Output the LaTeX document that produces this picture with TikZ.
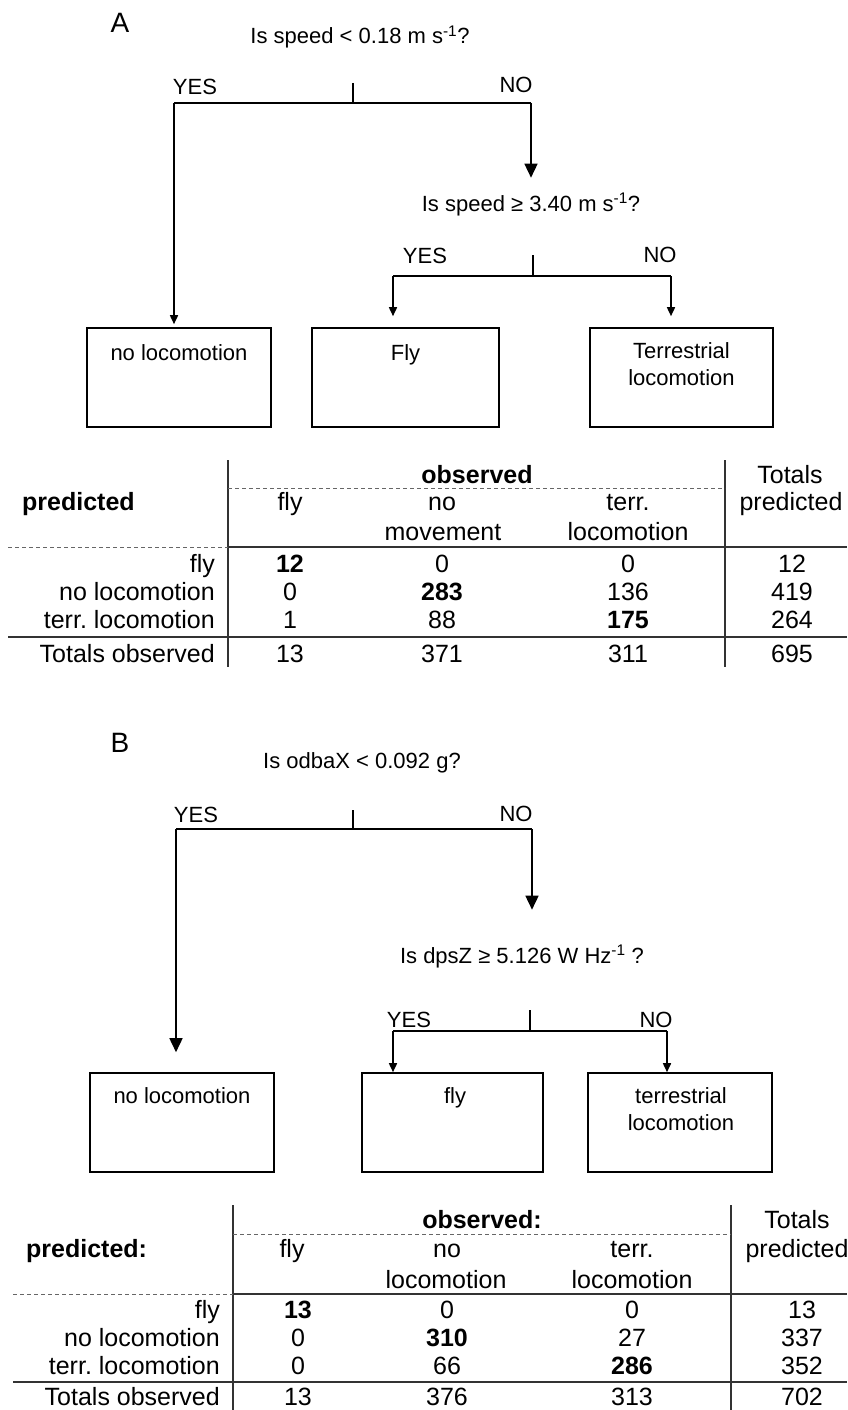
\documentclass[tikz,border=0pt]{standalone}
\usepackage{fontspec}
\setmainfont{Liberation Sans}
\frenchspacing
\usetikzlibrary{arrows.meta,calc}
\tikzset{
  tt/.style={font=\fontsize{22}{26}\selectfont, inner sep=0pt, anchor=base},
  tb/.style={font=\fontsize{25}{29}\selectfont, inner sep=0pt, anchor=base},
  tbb/.style={font=\fontsize{25}{29}\selectfont\bfseries, inner sep=0pt, anchor=base},
  tbr/.style={tb, anchor=base east},
  tbl/.style={tbb, anchor=base west},
  panel/.style={font=\fontsize{28}{32}\selectfont, inner sep=0pt, anchor=base},
  treeline/.style={line width=1.6pt},
  arrsmall/.style={treeline, -{Triangle[length=9pt,width=8pt]}},
  arrbig/.style={treeline, -{Triangle[length=14pt,width=13pt]}},
  leaf/.style={draw, line width=1.6pt, inner sep=0pt, minimum height=99pt},
  tabline/.style={line width=1.3pt, black!80},
  tabdash/.style={line width=1pt, black!60, dash pattern=on 4pt off 3pt},
}
\begin{document}
\begin{tikzpicture}[x=1pt,y=-1pt]
\useasboundingbox (0,0) rectangle (847,1410);

% ================= Panel A =================
\node[panel] (pA) at (120,33) {A};
\node[tt] (qa1) at (360,44) {Is speed < 0.18 m s\textsuperscript{-1}?};
\node[tt] (ya1) at (195,95) {YES};
\node[tt] (na1) at (516,93) {NO};
\coordinate (a1L) at (174,103);
\coordinate (a1R) at (531,103);
\coordinate (a1T) at (353,83);
\draw[treeline] (a1L) -- (a1R);
\draw[treeline] (a1T) -- (a1T |- a1L);

\node[tt] (qa2) at (531,211) {Is speed ≥ 3.40 m s\textsuperscript{-1}?};
\draw[arrbig, shorten >=15pt] (a1R) -- (a1R |- qa2.north);
\node[tt] (ya2) at (425,263) {YES};
\node[tt] (na2) at (660,262) {NO};
\coordinate (a2L) at (393,276);
\coordinate (a2R) at (671,276);
\coordinate (a2T) at (533,255);
\draw[treeline] (a2L) -- (a2R);
\draw[treeline] (a2T) -- (a2T |- a2L);

\node[leaf, minimum width=184pt] (ab1) at (179,377.5) {};
\node[leaf, minimum width=187pt] (ab2) at (405.5,377.5) {};
\node[leaf, minimum width=183pt] (ab3) at (681.5,377.5) {};
\node[tt] (ab1t) at (179,360) {no locomotion};
\node[tt] (ab2t) at (405.5,360) {Fly};
\node[tt] (ab3t) at (681.5,358) {Terrestrial};
\node[tt] (ab3u) at (681.5,385) {locomotion};

\draw[arrsmall, shorten >=3pt] (a1L) -- (a1L |- ab1.north);
\draw[arrsmall, shorten >=11pt] (a2L) -- (a2L |- ab2.north);
\draw[arrsmall, shorten >=11pt] (a2R) -- (a2R |- ab3.north);

% ---- table A ----
\coordinate (tA1t) at (228,460); \coordinate (tA1b) at (228,667);
\coordinate (tA2t) at (725,460); \coordinate (tA2b) at (725,667);
\draw[tabline] (tA1t) -- (tA1b);
\draw[tabline] (tA2t) -- (tA2b);
\node[tbb] (tAobs) at (477,483) {observed};
\coordinate (tAd1) at (228,488); \coordinate (tAd2) at (725,488);
\draw[tabdash] (tAd1) -- (tAd2);
\node[tbl] (tApred) at (22,510) {predicted};
\node[tb] (tAh1) at (290,510) {fly};
\node[tb] (tAh2) at (442,510) {no};
\node[tb] (tAh2b) at (443,540) {movement};
\node[tb] (tAh3) at (628,510) {terr.};
\node[tb] (tAh3b) at (628,540) {locomotion};
\node[tb] (tAh4) at (790,483) {Totals};
\node[tb] (tAh4b) at (791,510) {predicted};
\coordinate (tAl1a) at (8,547); \coordinate (tAl1b) at (228,547); \coordinate (tAl1c) at (847,547);
\draw[tabdash] (tAl1a) -- (tAl1b);
\draw[tabline] (tAl1b) -- (tAl1c);
\node[tbr] (tAr1) at (215,572) {fly};
\node[tbr] (tAr2) at (215,600) {no locomotion};
\node[tbr] (tAr3) at (215,628) {terr. locomotion};
\node[tbr] (tAr4) at (215,662) {Totals observed};
\node[tbb] at (290,572) {12};  \node[tb] at (442,572) {0};   \node[tb] at (628,572) {0};   \node[tb] at (792,572) {12};
\node[tb] at (290,600) {0};    \node[tbb] at (442,600) {283}; \node[tb] at (628,600) {136}; \node[tb] at (792,600) {419};
\node[tb] at (290,628) {1};    \node[tb] at (442,628) {88};   \node[tbb] at (628,628) {175}; \node[tb] at (792,628) {264};
\node[tb] at (290,662) {13};   \node[tb] at (442,662) {371};  \node[tb] at (628,662) {311}; \node[tb] at (792,662) {695};
\coordinate (tAl2a) at (8,637); \coordinate (tAl2b) at (847,637);
\draw[tabline] (tAl2a) -- (tAl2b);

% ================= Panel B =================
\node[panel] (pB) at (120,752) {B};
\node[tt] (qb1) at (362,768) {Is odbaX < 0.092 g?};
\node[tt] (yb1) at (196,822) {YES};
\node[tt] (nb1) at (516,821) {NO};
\coordinate (b1L) at (176,829);
\coordinate (b1R) at (532,829);
\coordinate (b1T) at (353,810);
\draw[treeline] (b1L) -- (b1R);
\draw[treeline] (b1T) -- (b1T |- b1L);

\node[tt] (qb2) at (522,963) {Is dpsZ ≥ 5.126 W Hz\textsuperscript{-1} ?};
\draw[arrbig, shorten >=35pt] (b1R) -- (b1R |- qb2.north);
\node[tt] (yb2) at (409,1027) {YES};
\node[tt] (nb2) at (656,1027) {NO};
\coordinate (b2L) at (393,1031);
\coordinate (b2R) at (667,1031);
\coordinate (b2T) at (530,1010);
\draw[treeline] (b2L) -- (b2R);
\draw[treeline] (b2T) -- (b2T |- b2L);

\node[leaf, minimum width=184pt] (bb1) at (182,1122.5) {};
\node[leaf, minimum width=181pt] (bb2) at (452.5,1122.5) {};
\node[leaf, minimum width=184pt] (bb3) at (680,1122.5) {};
\node[tt] (bb1t) at (182,1103) {no locomotion};
\node[tt] (bb2t) at (455,1103) {fly};
\node[tt] (bb3t) at (681,1103) {terrestrial};
\node[tt] (bb3u) at (681,1130) {locomotion};

\draw[arrbig, shorten >=20pt] (b1L) -- (b1L |- bb1.north);
\draw[arrsmall] (b2L) -- (b2L |- bb2.north);
\draw[arrsmall] (b2R) -- (b2R |- bb3.north);

% ---- table B ----
\coordinate (tB1t) at (233,1205); \coordinate (tB1b) at (233,1410);
\coordinate (tB2t) at (731,1205); \coordinate (tB2b) at (731,1410);
\draw[tabline] (tB1t) -- (tB1b);
\draw[tabline] (tB2t) -- (tB2b);
\node[tbb] (tBobs) at (482,1228) {observed:};
\coordinate (tBd1) at (233,1234); \coordinate (tBd2) at (731,1234);
\draw[tabdash] (tBd1) -- (tBd2);
\node[tbl] (tBpred) at (26,1257) {predicted:};
\node[tb] (tBh1) at (292,1257) {fly};
\node[tb] (tBh2) at (447,1257) {no};
\node[tb] (tBh2b) at (446,1288) {locomotion};
\node[tb] (tBh3) at (632,1257) {terr.};
\node[tb] (tBh3b) at (632,1288) {locomotion};
\node[tb] (tBh4) at (797,1228) {Totals};
\node[tb] (tBh4b) at (797,1257) {predicted};
\coordinate (tBl1a) at (13,1294); \coordinate (tBl1b) at (233,1294); \coordinate (tBl1c) at (847,1294);
\draw[tabdash] (tBl1a) -- (tBl1b);
\draw[tabline] (tBl1b) -- (tBl1c);
\node[tbr] (tBr1) at (220,1318) {fly};
\node[tbr] (tBr2) at (220,1346) {no locomotion};
\node[tbr] (tBr3) at (220,1374) {terr. locomotion};
\node[tbr] (tBr4) at (220,1405) {Totals observed};
\node[tbb] at (298,1318) {13}; \node[tb] at (447,1318) {0};   \node[tb] at (632,1318) {0};   \node[tb] at (802,1318) {13};
\node[tb] at (298,1346) {0};   \node[tbb] at (447,1346) {310}; \node[tb] at (632,1346) {27};  \node[tb] at (802,1346) {337};
\node[tb] at (298,1374) {0};   \node[tb] at (447,1374) {66};   \node[tbb] at (632,1374) {286}; \node[tb] at (802,1374) {352};
\node[tb] at (298,1405) {13};  \node[tb] at (447,1405) {376};  \node[tb] at (632,1405) {313}; \node[tb] at (802,1405) {702};
\coordinate (tBl2a) at (13,1382); \coordinate (tBl2b) at (847,1382);
\draw[tabline] (tBl2a) -- (tBl2b);
\end{tikzpicture}
\end{document}
